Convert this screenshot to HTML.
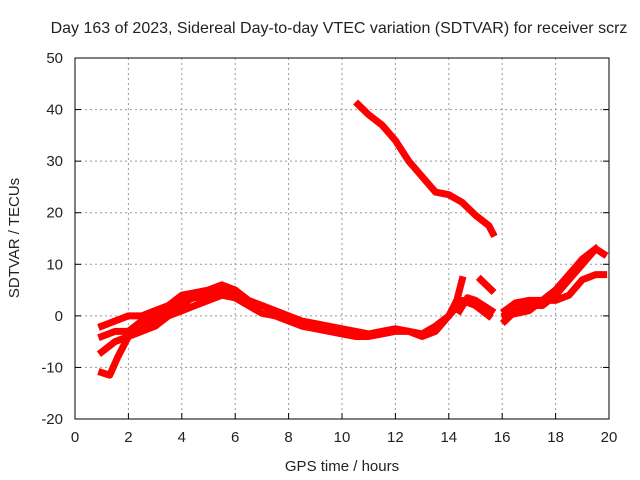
<!DOCTYPE html>
<html><head><meta charset="utf-8"><style>
body{margin:0;background:#fff}
svg{display:block}
text{font-family:"Liberation Sans",sans-serif;font-size:15px;fill:#222}
</style></head><body>
<svg id="chart" width="640" height="480" viewBox="0 0 640 480">
<text x="339" y="33" text-anchor="middle" style="font-size:16px">Day 163 of 2023, Sidereal Day-to-day VTEC variation (SDTVAR) for receiver scrz</text>
<g id="grid"></g>
<g id="series"></g>
<rect x="75" y="58" width="534" height="361" fill="none" stroke="#000" stroke-width="1"/>
<g id="ticks"></g>
<text x="342" y="471" text-anchor="middle">GPS time / hours</text>
<text transform="translate(19,238) rotate(-90)" text-anchor="middle">SDTVAR / TECUs</text>
</svg>
<script>
const xTicks=[0,2,4,6,8,10,12,14,16,18,20];
const yTicks=[-20,-10,0,10,20,30,40,50];
const seriesA=[[1.0,-2],[1.5,-1],[2,0],[2.5,0],[3,1],[3.5,2],[4,4],[4.5,4.5],[5,5],[5.5,6],[6,5],[6.5,3],[7,2],[7.5,1],[8,0],[8.5,-1],[9,-1.5],[9.5,-2],[10,-2.5],[10.5,-3],[11,-3.5],[11.5,-3],[12,-2.5],[12.5,-3],[13,-3.5],[13.5,-2],[14,0],[14.3,3],[14.5,7]];
const seriesB=[[1.0,-7],[1.5,-5],[2,-4],[2.5,-3],[3,-2],[3.5,0],[4,1],[4.5,2],[5,3],[5.5,4],[6,3.5],[6.5,2],[7,0.5],[7.5,0],[8,-1],[8.5,-2],[9,-2.5],[9.5,-3],[10,-3.5],[10.5,-4],[11,-4],[11.5,-3.5],[12,-3],[12.5,-3],[13,-4],[13.5,-3],[14,0],[14.5,3],[15,2],[15.5,0]];
const seriesC=[[1,-11],[1.3,-11.5],[1.6,-8],[2,-4],[2.5,-2],[3,-1],[3.5,0],[4,2],[4.5,4],[5,4.5],[5.5,5],[6,4.5]];
const seriesD=[[1,-4],[1.5,-3],[2,-3],[2.5,-1],[3,0],[3.5,1],[4,3],[4.5,3.5],[5,4],[5.5,5]];
const seriesE=[[10.6,41],[11,39],[11.5,37],[12,34],[12.5,30],[13,27],[13.5,24],[14,23.5],[14.5,22],[15,19.5],[15.5,17.5],[15.65,16]];
const seriesF=[[14.4,1],[14.7,3.5],[15,3],[15.3,2],[15.6,1]];
const seriesF2=[[15.2,7],[15.6,5]];
const seriesG=[[16.1,-1],[16.5,1],[17,2],[17.5,2],[18,4],[18.5,7],[19,10],[19.5,13],[19.8,12]];
const seriesH=[[16.1,1],[16.5,2.5],[17,3],[17.5,3],[18,3],[18.5,4],[19,7],[19.5,8],[19.8,8]];
const seriesI=[[16.1,0],[17,1],[17.5,3],[18,5],[18.5,8],[19,11],[19.5,13]];
const allSeries=[seriesA,seriesB,seriesC,seriesD,seriesE,seriesF,seriesF2,seriesG,seriesH,seriesI];
const X0=75,X1=609,Y0=419,Y1=58;
function xs(h){return X0+(h-0)/(20-0)*(X1-X0);}
function ys(v){return Y0-(v+20)/70*(Y0-Y1);}
const NS="http://www.w3.org/2000/svg";
const grid=document.getElementById('grid'),ticks=document.getElementById('ticks'),sg=document.getElementById('series');
function mk(t,a,p){const e=document.createElementNS(NS,t);for(const k in a)e.setAttribute(k,a[k]);p.appendChild(e);return e;}
xTicks.forEach(t=>{const x=xs(t);
 if(t>0&&t<20){const l=mk('line',{x1:x,x2:x,y1:Y1,y2:Y0,stroke:'#999','stroke-dasharray':'2,3'},grid);
 
 }
 const tk=mk('line',{x1:x,x2:x,y1:Y0,y2:Y0-6,stroke:'#000'},ticks);
 
 
 const tx=mk('text',{x:x,y:Y0+23,'text-anchor':'middle'},ticks);tx.textContent=t;
 
 
});
yTicks.forEach(t=>{const y=ys(t);
 if(t>-20&&t<50){const l=mk('line',{x1:X0,x2:X1,y1:y,y2:y,stroke:'#999','stroke-dasharray':'2,3'},grid);
 
 }
 const tk=mk('line',{x1:X0,x2:X0+6,y1:y,y2:y,stroke:'#000'},ticks);
 
 
 const tk2=mk('line',{x1:X1,x2:X1-6,y1:y,y2:y,stroke:'#000'},ticks);
 
 
 const tx=mk('text',{x:X0-12,y:y+5,'text-anchor':'end'},ticks);tx.textContent=t;
 
 
});
allSeries.forEach((s,i)=>{
 const p=mk('polyline',{points:s.map(d=>xs(d[0])+','+ys(d[1])).join(' '),fill:'none',stroke:'#f00','stroke-width':7,'stroke-linejoin':'round','stroke-linecap':'square'},sg);
 
 
});
</script>
</body></html>
